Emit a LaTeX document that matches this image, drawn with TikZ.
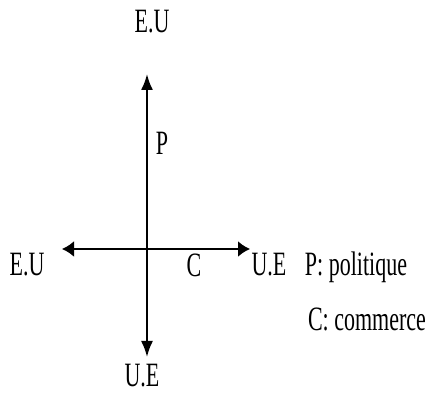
\documentclass[tikz,border=0pt]{standalone}
\usepackage{fontspec}
\setmainfont{Liberation Serif}
\usepackage{graphicx}
\usetikzlibrary{arrows.meta,positioning}
\newcommand{\tall}[1]{\scalebox{1}[1.55]{#1}}

\begin{document}
\begin{tikzpicture}[
			x=1pt,y=-1pt,
			lbl/.style={inner sep=0pt,anchor=base,font=\fontsize{22}{24}\selectfont},
			varr/.style={{Latex[length=16pt,width=12pt]}-{Latex[length=16pt,width=12pt]},line width=2pt},
			harr/.style={{Latex[length=12pt,width=16pt]}-{Latex[length=12pt,width=16pt]},line width=2pt}
		]
		\useasboundingbox (0,0) rectangle (432,395);
		% axis ends
		\coordinate (vtop) at (147,74);
		\coordinate (vbot) at (147,357);
		\coordinate (hleft) at (62,249);
		\coordinate (hright) at (250,249);
		% labels
		\node[lbl] (eutop) at (152,33) {\tall{E.U}};
		\node[lbl] (uebot) at (142,387) {\tall{U.E}};
		\node[lbl] (euleft) at (27,276) {\tall{E.U}};
		\node[lbl] (ueright) at (269,276) {\tall{U.E}};
		\node[lbl] (p) at (162,155) {\tall{P}};
		\node[lbl] (c) at (194,277) {\tall{C}};
		\node[lbl] (legp) at (356,276) {\tall{P: politique}};
		\node[lbl] (legc) at (367,331) {\tall{C: commerce}};
		% arrows
		\draw[varr] (vbot)--(vtop);
		\draw[harr] (hleft)--(hright);
	\end{tikzpicture}
\end{document}
